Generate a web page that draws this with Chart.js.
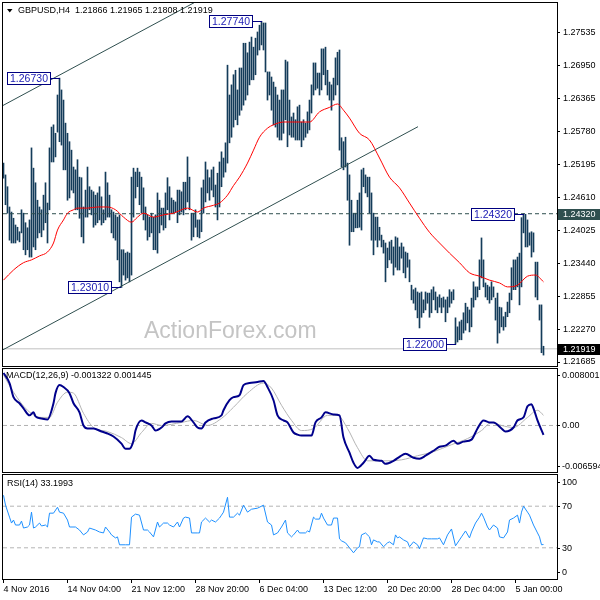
<!DOCTYPE html>
<html><head><meta charset="utf-8">
<script src="https://cdn.jsdelivr.net/npm/chart.js@4.4.1/dist/chart.umd.min.js"></script>
<style>
html,body{margin:0;padding:0;background:#fff;width:600px;height:600px;overflow:hidden}
canvas{position:absolute;left:0}
</style></head><body>
<canvas id="main" width="600" height="368" style="top:0px"></canvas>
<canvas id="macd" width="600" height="107" style="top:367px"></canvas>
<canvas id="rsi" width="600" height="127" style="top:473px"></canvas>
<script>
// ---------------- DATA ----------------
const symbol = 'GBPUSD,H4';
const lastOHLC = [1.21866, 1.21965, 1.21808, 1.21919];

const highs = [
1.2522,1.2501,1.2480,1.2444,1.2435,1.2424,1.2412,1.2408,1.2400,1.2439,
1.2433,1.2416,1.2407,1.2421,1.2549,1.2513,1.2487,1.2456,1.2444,1.2439,
1.2465,1.2487,1.2451,1.2549,1.2586,1.2590,1.2575,1.2643,1.2673,1.2652,
1.2634,1.2593,1.2575,1.2560,1.2545,1.2515,1.2510,1.2528,1.2497,1.2496,
1.2444,1.2474,1.2515,1.2480,1.2474,1.2471,1.2465,1.2469,1.2480,1.2462,
1.2439,1.2506,1.2487,1.2465,1.2439,1.2435,1.2430,1.2426,1.2430,1.2368,
1.2368,1.2362,1.2364,1.2362,1.2497,1.2513,1.2506,1.2513,1.2506,1.2497,
1.2478,1.2444,1.2430,1.2426,1.2433,1.2426,1.2430,1.2469,1.2456,1.2442,
1.2442,1.2469,1.2496,1.2480,1.2460,1.2456,1.2453,1.2474,1.2474,1.2471,
1.2488,1.2488,1.2533,1.2497,1.2433,1.2433,1.2439,1.2421,1.2421,1.2478,
1.2492,1.2524,1.2510,1.2496,1.2510,1.2515,1.2483,1.2504,1.2524,1.2542,
1.2531,1.2558,1.2696,1.2643,1.2661,1.2679,1.2687,1.2652,1.2691,1.2691,
1.2735,1.2735,1.2718,1.2737,1.2746,1.2728,1.2744,1.2755,1.2767,1.2774,
1.2771,1.2771,1.2684,1.2684,1.2675,1.2666,1.2657,1.2643,1.2634,1.2652,
1.2652,1.2705,1.2702,1.2634,1.2604,1.2611,1.2599,1.2622,1.2625,1.2595,
1.2599,1.2593,1.2613,1.2634,1.2661,1.2700,1.2700,1.2682,1.2682,1.2725,
1.2725,1.2728,1.2687,1.2666,1.2661,1.2673,1.2709,1.2719,1.2723,1.2567,
1.2560,1.2568,1.2522,1.2501,1.2456,1.2433,1.2433,1.2456,1.2469,1.2510,
1.2513,1.2501,1.2497,1.2497,1.2469,1.2433,1.2426,1.2426,1.2408,1.2394,
1.2385,1.2380,1.2371,1.2382,1.2385,1.2373,1.2391,1.2389,1.2373,1.2380,
1.2373,1.2364,1.2362,1.2350,1.2305,1.2297,1.2300,1.2293,1.2291,1.2293,
1.2279,1.2293,1.2291,1.2291,1.2297,1.2302,1.2293,1.2284,1.2288,1.2282,
1.2284,1.2279,1.2284,1.2297,1.2293,1.2297,1.2247,1.2231,1.2240,1.2243,
1.2256,1.2273,1.2266,1.2261,1.2282,1.2311,1.2302,1.2302,1.2350,1.2389,
1.2350,1.2309,1.2305,1.2302,1.2311,1.2302,1.2282,1.2291,1.2266,1.2265,
1.2249,1.2257,1.2275,1.2291,1.2336,1.2350,1.2350,1.2355,1.2362,1.2425,
1.2432,1.2431,1.2421,1.2398,1.2400,1.2398,1.2346,1.2346,1.2270,1.2270,
1.21965];
const lows = [
1.2495,1.2448,1.2433,1.2385,1.2380,1.2380,1.2380,1.2385,1.2382,1.2398,
1.2368,1.2359,1.2368,1.2355,1.2355,1.2373,1.2368,1.2389,1.2398,1.2391,
1.2403,1.2416,1.2380,1.2439,1.2524,1.2524,1.2533,1.2577,1.2560,1.2554,
1.2510,1.2510,1.2456,1.2460,1.2474,1.2469,1.2439,1.2439,1.2424,1.2391,
1.2380,1.2426,1.2426,1.2439,1.2430,1.2408,1.2412,1.2416,1.2421,1.2412,
1.2416,1.2421,1.2426,1.2426,1.2398,1.2389,1.2385,1.2350,1.2311,1.2301,
1.2323,1.2314,1.2318,1.2311,1.2323,1.2426,1.2460,1.2480,1.2448,1.2433,
1.2421,1.2403,1.2385,1.2391,1.2398,1.2368,1.2368,1.2362,1.2398,1.2412,
1.2403,1.2407,1.2439,1.2421,1.2433,1.2433,1.2435,1.2416,1.2430,1.2435,
1.2430,1.2439,1.2453,1.2439,1.2385,1.2391,1.2408,1.2391,1.2389,1.2400,
1.2433,1.2453,1.2469,1.2456,1.2474,1.2462,1.2444,1.2421,1.2444,1.2480,
1.2497,1.2506,1.2522,1.2558,1.2568,1.2586,1.2599,1.2590,1.2607,1.2616,
1.2625,1.2634,1.2643,1.2661,1.2670,1.2670,1.2679,1.2714,1.2723,1.2732,
1.2723,1.2684,1.2634,1.2643,1.2616,1.2590,1.2586,1.2568,1.2563,1.2563,
1.2575,1.2599,1.2551,1.2572,1.2568,1.2568,1.2563,1.2563,1.2563,1.2551,
1.2563,1.2568,1.2575,1.2581,1.2611,1.2643,1.2652,1.2655,1.2643,1.2652,
1.2679,1.2661,1.2643,1.2634,1.2616,1.2634,1.2643,1.2661,1.2545,1.2515,
1.2510,1.2515,1.2456,1.2376,1.2400,1.2400,1.2407,1.2407,1.2408,1.2403,
1.2480,1.2469,1.2462,1.2433,1.2385,1.2359,1.2385,1.2373,1.2385,1.2373,
1.2362,1.2311,1.2336,1.2350,1.2344,1.2323,1.2337,1.2332,1.2332,1.2353,
1.2327,1.2318,1.2337,1.2311,1.2279,1.2273,1.2261,1.2247,1.2229,1.2248,
1.2256,1.2261,1.2273,1.2248,1.2256,1.2279,1.2261,1.2256,1.2266,1.2256,
1.2266,1.2240,1.2256,1.2266,1.2273,1.2279,1.2200,1.2204,1.2208,1.2208,
1.2220,1.2225,1.2238,1.2222,1.2231,1.2266,1.2279,1.2284,1.2297,1.2318,
1.2302,1.2284,1.2279,1.2273,1.2279,1.2284,1.2243,1.2202,1.2220,1.2231,
1.2225,1.2231,1.2249,1.2256,1.2279,1.2297,1.2297,1.2302,1.2270,1.2302,
1.2398,1.2373,1.2373,1.2376,1.2355,1.2364,1.2284,1.2279,1.2243,1.2185,
1.21808];

const maBars = [0,5,10,14,18,22,25,27,30,32,35,37,42,47,52,56,60,64,67,70,75,80,85,92,97,100,105,108,112,115,118,122,125,128,132,135,140,143,148,153,158,163,167,170,173,178,183,188,193,198,203,208,213,218,223,228,233,238,243,248,252,257,262,266,270];
const maValues = [1.2314,1.2332,1.2345,1.2350,1.2357,1.2364,1.2380,1.2403,1.2421,1.2433,1.2439,1.2442,1.2442,1.2444,1.2444,1.2439,1.2426,1.2417,1.2426,1.2433,1.2426,1.2430,1.2433,1.2442,1.2435,1.2442,1.2447,1.2451,1.2465,1.2482,1.2497,1.2522,1.2545,1.2568,1.2584,1.2590,1.2595,1.2595,1.2595,1.2595,1.2613,1.2621,1.2627,1.2616,1.2602,1.2575,1.2563,1.2531,1.2497,1.2478,1.2451,1.2424,1.2399,1.2380,1.2362,1.2345,1.2327,1.2321,1.2314,1.2309,1.2302,1.2305,1.2321,1.2323,1.2311];

const trendUpperBars = [-1, 100];
const trendUpperPrices = [1.26230, 1.28160];
const trendLowerBars = [-1, 207.25];
const trendLowerPrices = [1.21888, 1.25867];
const resistanceLevel = 1.24320;
const bidLevel = 1.21919;

const markBars = [28, 129, 59, 226, 260];
const markPrices = [1.26730, 1.27740, 1.23010, 1.22000, 1.24320];

const priceTicks = [1.21685,1.22270,1.22855,1.23440,1.24025,1.24610,1.25195,1.25780,1.26365,1.26950,1.27535];
const PRICE_MIN = 1.21614, PRICE_MAX = 1.28065;

const macdParams = [12, 26, 9];
const macdBars = [0,3,5,8,10,13,15,16,19,22,25,26,28,30,33,35,38,40,42,45,49,52,55,59,61,63,65,66,69,71,74,76,79,81,84,89,92,95,97,99,101,105,109,110,113,115,118,120,123,127,130,132,135,137,140,142,145,147,149,154,156,159,161,165,168,170,173,175,177,180,183,185,189,191,195,198,201,205,208,211,215,218,221,225,227,230,234,237,240,243,245,249,251,255,257,260,262,264,265,267,270];
const macdValues = [0.00744,0.00601,0.00401,0.00315,0.00243,0.00143,0.00186,0.00129,0.00100,0.00086,0.00315,0.00458,0.00572,0.00544,0.00458,0.00315,0.00186,0,-0.00043,-0.00043,-0.00086,-0.00114,-0.00157,-0.00258,-0.00329,-0.00329,-0.00215,-0.00072,0.00072,0.00043,0,-0.00072,-0.00029,0.00029,0.00057,0.00057,0.00129,0.00043,-0.00029,-0.00043,0.00043,0.00100,0.00143,0.00215,0.00358,0.00401,0.00429,0.00572,0.00601,0.00615,0.00630,0.00544,0.00358,0.00143,0.00072,0.00043,-0.00100,-0.00129,-0.00143,-0.00143,0.00043,0.00114,0.00186,0.00157,0.00143,-0.00172,-0.00386,-0.00529,-0.00601,-0.00529,-0.00429,-0.00487,-0.00501,-0.00544,-0.00501,-0.00444,-0.00401,-0.00458,-0.00472,-0.00429,-0.00358,-0.00301,-0.00286,-0.00215,-0.00258,-0.00229,-0.00200,-0.00043,0.00072,0.00043,0.00043,-0.00043,-0.00086,-0.00029,0.00072,0.00114,0.00272,0.00301,0.00243,0.00072,-0.001322];
const signalBars = [0,5,12,19,23,27,32,35,40,45,52,59,64,69,74,79,89,95,102,109,115,122,130,134,139,144,149,155,162,167,172,177,182,190,199,207,215,224,232,239,244,249,255,262,267,270];
const signalValues = [0.00716,0.00472,0.00215,0.00114,0.00114,0.00329,0.00472,0.00458,0.00172,-0.00029,-0.00086,-0.00172,-0.00258,-0.00100,0.00029,0,0.00043,0.00072,0,0.00100,0.00258,0.00458,0.00601,0.00529,0.00286,0.00072,-0.00072,-0.00043,0.00143,0.00143,-0.00043,-0.00315,-0.00501,-0.00501,-0.00487,-0.00429,-0.00372,-0.00272,-0.00186,-0.00072,0.00043,0,-0.00029,0.00114,0.00215,0.001445];
const MACD_MIN = -0.006594, MACD_MAX = 0.008001;
const macdAxisValues = [0.008001, 0, -0.006594];
const macdAxisTexts = ['0.008001', '0.00', '-0.006594'];

const rsiPeriod = 14;
const rsiBars = [0,1,3,4,5,6,8,9,10,12,13,14,15,16,18,19,21,22,23,25,27,28,30,32,33,36,38,40,42,43,46,48,50,51,53,54,56,57,58,61,63,64,66,68,70,72,73,75,77,78,80,82,83,85,87,88,90,91,93,94,97,98,99,101,103,104,106,108,109,110,112,113,115,117,118,120,122,124,127,130,132,134,135,137,139,141,142,144,145,147,148,151,152,153,155,156,158,159,160,162,164,165,167,168,169,171,173,175,177,178,179,181,183,184,185,187,188,190,192,193,195,196,197,198,200,202,203,205,207,208,210,212,214,217,218,220,222,224,226,228,229,231,233,234,236,238,239,240,242,243,245,247,248,250,252,253,255,257,258,259,260,262,263,265,267,268,269,270];
const rsiValues = [80.5,71.0,59.5,53.8,56.7,51.9,51.9,55.7,49.0,50.0,51.9,64.3,49.0,50.0,53.8,51.0,51.9,50.0,63.3,63.3,69.0,64.3,63.3,56.7,50.0,50.0,47.1,42.4,45.2,49.0,47.1,45.2,44.3,50.0,45.2,42.4,39.5,40.5,32.9,32.9,32.9,59.5,62.4,61.4,47.1,47.1,45.2,40.5,54.8,50.0,53.8,53.8,51.9,50.0,54.8,50.0,58.6,59.5,58.6,44.3,44.3,44.3,54.8,58.6,54.8,56.7,54.8,58.6,61.4,64.3,78.6,59.5,59.5,63.3,61.4,71.0,64.3,67.1,68.1,71.0,54.8,51.9,42.4,44.3,50.0,56.7,44.3,40.5,42.4,47.1,44.3,44.3,46.2,45.2,59.5,57.6,57.6,63.3,58.6,51.9,51.9,58.6,58.6,38.6,36.7,34.8,30.0,25.2,30.0,31.0,42.4,44.3,40.5,32.9,37.6,35.7,35.7,31.0,34.8,35.7,32.9,42.4,39.5,40.5,37.6,35.7,31.0,35.7,32.9,29.0,39.5,38.6,38.6,38.6,39.5,32.9,42.4,48.1,31.9,37.6,40.5,46.2,39.5,45.2,53.8,59.5,63.3,59.5,50.0,47.1,51.9,49.0,40.5,39.5,45.2,56.7,58.6,61.4,53.8,64.3,70.0,64.3,61.4,51.9,44.3,40.5,32.9,33.1993];
const rsiLevels = [70, 30];
const rsiAxisValues = [100, 70, 30, 0];

const xTickBars = [0,32,64,96,128,160,192,224,256];
const xTickLabels = ['4 Nov 2016','14 Nov 04:00','21 Nov 12:00','28 Nov 20:00','6 Dec 04:00','13 Dec 12:00','20 Dec 20:00','28 Dec 04:00','5 Jan 00:00'];

// ---------------- SETUP ----------------
const FONT = '"Liberation Sans", Arial, Helvetica, sans-serif';
Chart.defaults.font.family = FONT;
Chart.defaults.font.size = 9;
Chart.defaults.color = '#000';
const X_MIN = -0.25, X_MAX = 276.75, AXIS_W = 43;

function fixY(s){ s.width = AXIS_W; s.paddingTop = 0; s.paddingBottom = 0; }
function pts(xs, ys){ return xs.map((x,k)=>({x:x, y:ys[k]})); }
function hline(v){ return [{x:X_MIN, y:v},{x:X_MAX, y:v}]; }

const framePlugin = { id:'frame', afterDraw(chart){
  const {ctx, chartArea:a} = chart;
  ctx.save(); ctx.strokeStyle = '#000'; ctx.lineWidth = 1;
  ctx.strokeRect(a.left-0.5, a.top-0.5, a.right-a.left+1, a.bottom-a.top+1);
  ctx.restore();
}};

function sidePlugin(values, texts, inset){
  return { id:'side', afterDraw(chart){
    const {ctx, chartArea:a} = chart; const ys = chart.scales.y;
    ctx.save(); ctx.font = '9px ' + FONT; ctx.fillStyle = '#000'; ctx.strokeStyle = '#000';
    ctx.textBaseline = 'middle'; ctx.textAlign = 'left';
    values.forEach((v,k)=>{
      let y = ys.getPixelForValue(v);
      y = Math.min(Math.max(y, a.top + inset), a.bottom - inset);
      const yy = Math.round(y) + 0.5;
      ctx.beginPath(); ctx.moveTo(a.right, yy); ctx.lineTo(a.right + 3, yy); ctx.stroke();
      ctx.fillText(texts[k], a.right + 5, yy);
    });
    ctx.restore();
  }};
}
function titlePlugin(text, x, y){
  return { id:'title', afterDraw(chart){
    const ctx = chart.ctx; ctx.save(); ctx.font = '9px ' + FONT; ctx.fillStyle = '#000';
    ctx.textBaseline = 'middle'; ctx.fillText(text, x, y); ctx.restore();
  }};
}

const mainDecor = { id:'mainDecor',
  afterDatasetsDraw(chart){
    const {ctx} = chart; const xs = chart.scales.x, ys = chart.scales.y;
    ctx.save();
    // watermark
    ctx.font = '23px ' + FONT; ctx.fillStyle = '#c4c4c4'; ctx.textBaseline = 'alphabetic';
    ctx.fillText('ActionForex.com', 144, 338);
    // price marks
    ctx.font = '10.5px ' + FONT; ctx.textBaseline = 'middle'; ctx.textAlign = 'center';
    markBars.forEach((b,k)=>{
      const bx = Math.round(xs.getPixelForValue(b));
      const y = Math.round(ys.getPixelForValue(markPrices[k]));
      const txt = markPrices[k].toFixed(5);
      const w = Math.round(ctx.measureText(txt).width + 5), h = 12;
      const right = bx - 10, left = right - w, top = y - 6;
      ctx.fillStyle = '#fff'; ctx.fillRect(left, top, w, h);
      ctx.strokeStyle = '#000080'; ctx.lineWidth = 1;
      ctx.strokeRect(left + 0.5, top + 0.5, w, h);
      ctx.beginPath(); ctx.moveTo(right + 0.5, y + 0.5); ctx.lineTo(bx, y + 0.5); ctx.stroke();
      ctx.fillStyle = '#1a1ab4'; ctx.fillText(txt, left + w/2 + 0.5, y + 1);
    });
    // header
    ctx.textAlign = 'left'; ctx.fillStyle = '#000';
    ctx.beginPath(); ctx.moveTo(7, 9); ctx.lineTo(12.5, 9); ctx.lineTo(9.75, 12.5); ctx.closePath(); ctx.fill();
    ctx.font = '9px ' + FONT; ctx.textBaseline = 'middle';
    ctx.fillText(symbol + '  ' + lastOHLC.map(v=>v.toFixed(5)).join(' '), 18, 10.5);
    ctx.restore();
  },
  afterDraw(chart){
    const {ctx, chartArea:a} = chart; const ys = chart.scales.y;
    ctx.save(); ctx.font = '9px ' + FONT; ctx.textBaseline = 'middle'; ctx.textAlign = 'left';
    [[resistanceLevel, '#2f4f4f'], [bidLevel, '#000000']].forEach(([v, bg])=>{
      const y = Math.round(ys.getPixelForValue(v));
      ctx.fillStyle = bg; ctx.fillRect(a.right + 1, y - 5, 600 - a.right - 1, 11);
      ctx.fillStyle = '#fff'; ctx.fillText(v.toFixed(5), a.right + 6, y + 0.5);
    });
    ctx.restore();
  }
};

const baseOpts = { responsive:false, animation:false, devicePixelRatio:1, events:[],
  plugins:{legend:{display:false}, tooltip:{enabled:false}} };

// ---------------- MAIN ----------------
new Chart(document.getElementById('main'), {
  type:'bar',
  data:{ datasets:[
    {type:'line', data:pts(maBars, maValues), borderColor:'#ff0000', borderWidth:1, pointRadius:0, cubicInterpolationMode:'monotone', order:1},
    {type:'line', data:pts(trendUpperBars, trendUpperPrices), borderColor:'#2f4f4f', borderWidth:1, pointRadius:0, order:2},
    {type:'line', data:pts(trendLowerBars, trendLowerPrices), borderColor:'#2f4f4f', borderWidth:1, pointRadius:0, order:2},
    {type:'line', data:hline(resistanceLevel), borderColor:'#2f4f4f', borderWidth:1, borderDash:[4,3], pointRadius:0, order:3},
    {type:'bar', data:highs.map((h,k)=>({x:k, y:[lows[k], h]})), backgroundColor:'#143c5a', borderWidth:0, barThickness:1, order:5},
    {type:'line', data:hline(bidLevel), borderColor:'#c0c0c0', borderWidth:1, pointRadius:0, order:6}
  ]},
  options:Object.assign({}, baseOpts, {
    layout:{padding:{left:3, top:3, right:0, bottom:2}},
    scales:{
      x:{type:'linear', min:X_MIN, max:X_MAX, display:false, offset:false},
      y:{type:'linear', position:'right', min:PRICE_MIN, max:PRICE_MAX, beginAtZero:false,
         afterFit:fixY,
         afterBuildTicks(s){ s.ticks = priceTicks.map(v=>({value:v})); },
         ticks:{callback:v=>Number(v).toFixed(5), padding:3, autoSkip:false, color:'#000', font:{size:9}},
         grid:{drawOnChartArea:false, drawTicks:true, tickLength:3, color:'#000'},
         border:{display:true, color:'#000'}}
    }
  }),
  plugins:[mainDecor, framePlugin]
});

// ---------------- MACD ----------------
new Chart(document.getElementById('macd'), {
  type:'line',
  data:{ datasets:[
    {data:pts(macdBars, macdValues), borderColor:'#00008b', borderWidth:2, pointRadius:0, cubicInterpolationMode:'monotone', order:1},
    {data:pts(signalBars, signalValues), borderColor:'#b4b4b4', borderWidth:1, pointRadius:0, cubicInterpolationMode:'monotone', order:2},
    {data:hline(0), borderColor:'#b0b0b0', borderWidth:1, borderDash:[4,3], pointRadius:0, order:3}
  ]},
  options:Object.assign({}, baseOpts, {
    layout:{padding:{left:3, top:2, right:0, bottom:2}},
    scales:{
      x:{type:'linear', min:X_MIN, max:X_MAX, display:false, offset:false},
      y:{type:'linear', position:'right', min:MACD_MIN, max:MACD_MAX, afterFit:fixY,
         ticks:{display:false}, grid:{display:false}, border:{display:true, color:'#000'}}
    }
  }),
  plugins:[framePlugin, sidePlugin(macdAxisValues, macdAxisTexts, 6),
    titlePlugin('MACD(' + macdParams.join(',') + ') ' + macdValues[macdValues.length-1].toFixed(6) + ' ' + signalValues[signalValues.length-1].toFixed(6), 6, 9)]
});

// ---------------- RSI ----------------
new Chart(document.getElementById('rsi'), {
  type:'line',
  data:{ datasets:[
    {data:pts(rsiBars, rsiValues), borderColor:'#1e90ff', borderWidth:1, pointRadius:0, tension:0, order:1},
    {data:hline(rsiLevels[0]), borderColor:'#b4b4b4', borderWidth:1, borderDash:[4,3], pointRadius:0, order:2},
    {data:hline(rsiLevels[1]), borderColor:'#b4b4b4', borderWidth:1, borderDash:[4,3], pointRadius:0, order:2}
  ]},
  options:Object.assign({}, baseOpts, {
    layout:{padding:{left:3, top:2, right:0, bottom:0}},
    scales:{
      x:{type:'linear', min:X_MIN, max:X_MAX, offset:false, position:'bottom',
         afterBuildTicks(s){ s.ticks = xTickBars.map(v=>({value:v})); },
         afterFit(s){ s.height = 21; s.paddingLeft = 0; s.paddingRight = 0; },
         ticks:{autoSkip:false, maxRotation:0, minRotation:0, align:'start', padding:1, color:'#000', font:{size:9},
                callback:(v, i)=>xTickLabels[i]},
         grid:{drawOnChartArea:false, drawTicks:true, tickLength:4, color:'#000'},
         border:{display:false}},
      y:{type:'linear', position:'right', min:0, max:100, afterFit:fixY,
         ticks:{display:false}, grid:{display:false}, border:{display:true, color:'#000'}}
    }
  }),
  plugins:[framePlugin, sidePlugin(rsiAxisValues, rsiAxisValues.map(String), 7),
    titlePlugin('RSI(' + rsiPeriod + ') ' + rsiValues[rsiValues.length-1].toFixed(4), 7, 11)]
});
</script>
</body></html>
